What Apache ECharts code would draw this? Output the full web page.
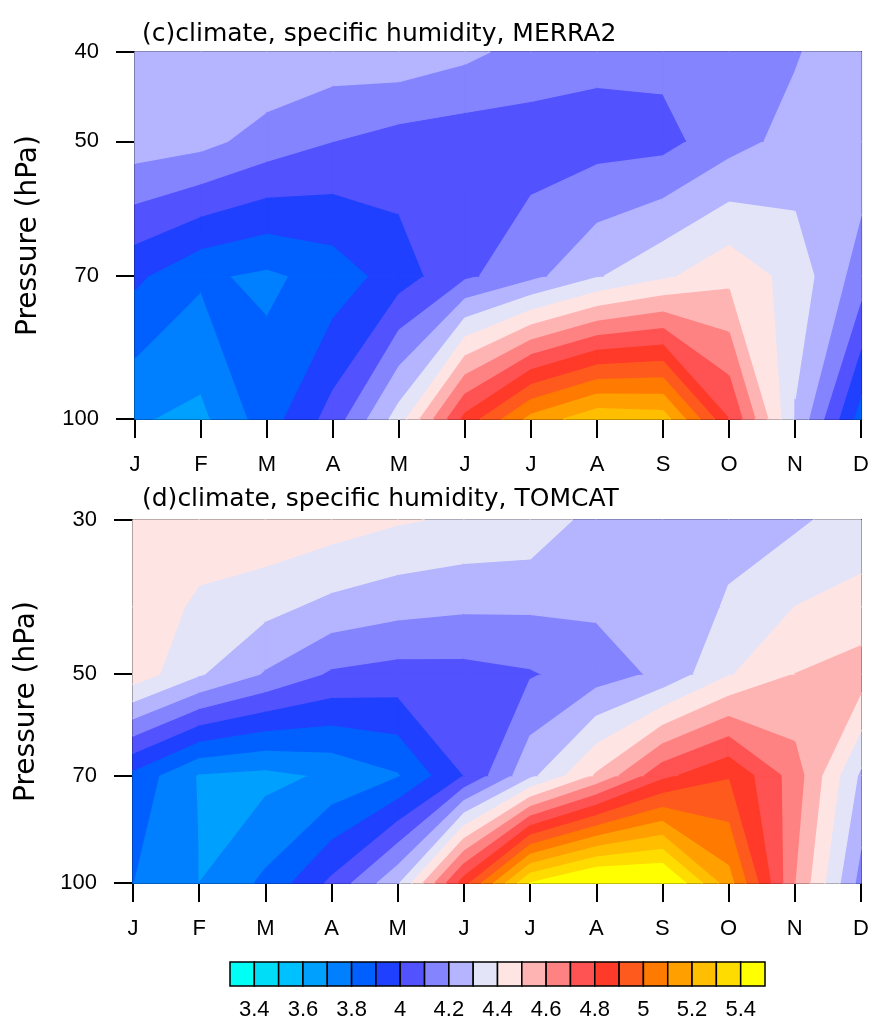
<!DOCTYPE html>
<html>
<head>
<meta charset="utf-8">
<script src="https://cdn.jsdelivr.net/npm/echarts@6/dist/echarts.min.js"></script>
<style>
  html, body { margin: 0; padding: 0; background: #fff; }
  #main { width: 872px; height: 1021px; }
</style>
</head>
<body>
<div id="main"></div>
<script>
// month labels on the x axis
var months = ['J', 'F', 'M', 'A', 'M', 'J', 'J', 'A', 'S', 'O', 'N', 'D'];

// pressure levels (hPa) of each data set, bottom to top
var levelsMerra = [100, 70, 50, 40];
var levelsTomcat = [100, 70, 50, 40, 30];

// pressure tick labels
var ticksMerra = [40, 50, 70, 100];
var ticksTomcat = [30, 50, 70, 100];

// specific humidity (ppmv), one row per level, one value per month
var qMerra100 = [3.71, 3.675, 3.85, 4.04, 4.345, 4.83, 5.13, 5.27, 5.25, 4.80, 4.29, 3.85];
var qMerra70  = [3.92, 3.815, 3.78, 3.84, 3.95, 4.08, 4.17, 4.29, 4.38, 4.47, 4.36, 4.15];
var qMerra50  = [4.254, 4.23, 4.155, 4.10, 4.058, 4.04, 4.053, 4.06, 4.066, 4.16, 4.235, 4.26];
var qMerra40  = [4.28, 4.27, 4.29, 4.26, 4.27, 4.225, 4.158, 4.126, 4.13, 4.17, 4.19, 4.28];

var qTomcat100 = [3.80, 3.70, 3.82, 4.02, 4.28, 4.85, 5.40, 5.55, 5.54, 5.14, 4.60, 4.16];
var qTomcat70  = [3.87, 3.69, 3.67, 3.715, 3.79, 4.00, 4.27, 4.51, 4.77, 4.89, 4.65, 4.28];
var qTomcat50  = [4.46, 4.31, 4.19, 4.085, 4.06, 4.065, 4.09, 4.15, 4.22, 4.39, 4.50, 4.55];
var qTomcat40  = [4.47, 4.38, 4.33, 4.27, 4.234, 4.215, 4.214, 4.215, 4.23, 4.31, 4.40, 4.43];
var qTomcat30  = [4.48, 4.46, 4.48, 4.45, 4.41, 4.385, 4.37, 4.26, 4.25, 4.27, 4.28, 4.35];

// contour levels and fill colours (one more colour than levels)
var contourLevels = [3.4, 3.5, 3.6, 3.7, 3.8, 3.9, 4.0, 4.1, 4.2, 4.3, 4.4,
                     4.5, 4.6, 4.7, 4.8, 4.9, 5.0, 5.1, 5.2, 5.3, 5.4];
var fillColors = ['#00FFF4', '#00DDF6', '#00C1FF', '#00A0FF', '#0080FF', '#0060FF',
                  '#2040FF', '#5252FF', '#8484FF', '#B4B4FF', '#E4E4F8', '#FFE4E4',
                  '#FFB4B4', '#FF8282', '#FF5252', '#FF3A28', '#FF5A1E', '#FF7A00',
                  '#FFA000', '#FFBE00', '#FFDC00', '#FFFF00'];
// colour bar labels
var barLabels = ['3.4', '3.6', '3.8', '4', '4.2', '4.4', '4.6', '4.8', '5', '5.2', '5.4'];

var FONT = 'Liberation Sans';
var WIDE = 'DejaVu Sans';

// keep the part of polygon where value >= t (above) or <= t
function clipPoly(poly, t, above) {
  var out = [];
  for (var k = 0; k < poly.length; k++) {
    var a = poly[k], b = poly[(k + 1) % poly.length];
    var ina = above ? a.v >= t : a.v <= t;
    var inb = above ? b.v >= t : b.v <= t;
    if (ina) out.push(a);
    if (ina !== inb) {
      var f = (t - a.v) / (b.v - a.v);
      out.push({ x: a.x + f * (b.x - a.x), y: a.y + f * (b.y - a.y), v: t });
    }
  }
  return out;
}

function contourSeries(axisIndex, levels, rows) {
  var cells = [];
  for (var j = 0; j < levels.length - 1; j++) {
    for (var i = 0; i < months.length - 1; i++) {
      cells.push([i, Math.log10(levels[j]), i + 1, Math.log10(levels[j + 1]), j]);
    }
  }
  return {
    type: 'custom',
    xAxisIndex: axisIndex,
    yAxisIndex: axisIndex,
    silent: true,
    animation: false,
    data: cells,
    encode: { x: [0, 2], y: [1, 3] },
    renderItem: function (params, api) {
      var c = cells[params.dataIndex];
      var i0 = c[0], i1 = c[2], j = c[4];
      var corners = [[i0, j], [i1, j], [i1, j + 1], [i0, j + 1]];
      var poly = corners.map(function (p) {
        var pt = api.coord([p[0], Math.log10(levels[p[1]])]);
        return { x: pt[0], y: pt[1], v: rows[p[1]][p[0]] };
      });
      var children = [];
      for (var k = 0; k < fillColors.length; k++) {
        var lo = k === 0 ? -Infinity : contourLevels[k - 1];
        var hi = k === contourLevels.length ? Infinity : contourLevels[k];
        var part = clipPoly(clipPoly(poly, lo, true), hi, false);
        if (part.length < 3) continue;
        children.push({
          type: 'polygon',
          shape: { points: part.map(function (q) { return [q.x, q.y]; }) },
          style: { fill: fillColors[k], stroke: fillColors[k], lineWidth: 1.4, lineJoin: 'round' }
        });
      }
      return { type: 'group', children: children };
    }
  };
}

function xAxisFor(gridIndex) {
  return {
    gridIndex: gridIndex, type: 'value', min: 0, max: 11, interval: 1,
    axisLine: { lineStyle: { color: '#000', width: 2 } },
    axisTick: { length: 19, lineStyle: { color: '#000', width: 2 } },
    axisLabel: { margin: 35, color: '#000', fontSize: 22, fontFamily: FONT,
      formatter: function (v) { return months[v]; } },
    splitLine: { show: false }
  };
}

function yAxisFor(gridIndex, ticks, top) {
  var tv = ticks.map(function (p) { return Math.log10(p); });
  return {
    gridIndex: gridIndex, type: 'value', inverse: true,
    min: Math.log10(top), max: 2,
    name: 'Pressure (hPa)', nameLocation: 'middle', nameGap: 92,
    nameTextStyle: { color: '#000', fontSize: 28, fontFamily: WIDE },
    axisLine: { lineStyle: { color: '#000', width: 2 } },
    axisTick: { length: 19, customValues: tv, lineStyle: { color: '#000', width: 2 } },
    axisLabel: { margin: 36, customValues: tv, color: '#000', fontSize: 22, fontFamily: FONT,
      formatter: function (v) { return String(Math.round(Math.pow(10, v))); } },
    splitLine: { show: false }
  };
}

var rowsMerra = [qMerra100, qMerra70, qMerra50, qMerra40];
var rowsTomcat = [qTomcat100, qTomcat70, qTomcat50, qTomcat40, qTomcat30];

var barStops = [];
for (var b = 0; b < fillColors.length; b++) barStops.push([b, 0, b + 1, 1]);
var barTickValues = [];
for (var t = 1; t <= contourLevels.length; t += 2) barTickValues.push(t);

var chart = echarts.init(document.getElementById('main'), null, { renderer: 'canvas' });

var option = {
  backgroundColor: '#fff',
  animation: false,
  title: [
    { text: '(c)climate, specific humidity, MERRA2', left: 137, top: 17,
      textStyle: { color: '#000', fontSize: 25, fontWeight: 'normal', fontFamily: WIDE } },
    { text: '(d)climate, specific humidity, TOMCAT', left: 137, top: 482,
      textStyle: { color: '#000', fontSize: 25, fontWeight: 'normal', fontFamily: WIDE } }
  ],
  grid: [
    { left: 135, top: 52, width: 729, height: 367, show: true, borderColor: '#000', borderWidth: 2 },
    { left: 133, top: 520, width: 728, height: 363, show: true, borderColor: '#000', borderWidth: 2 },
    { left: 230, top: 962, width: 535, height: 35 }
  ],
  xAxis: [
    xAxisFor(0),
    xAxisFor(1),
    {
      gridIndex: 2, type: 'value', min: 0, max: fillColors.length,
      axisLine: { show: false }, axisTick: { show: false }, splitLine: { show: false },
      axisLabel: { margin: 13, customValues: barTickValues, color: '#000', fontSize: 22, fontFamily: FONT,
        formatter: function (v) { return barLabels[(v - 1) / 2]; } }
    }
  ],
  yAxis: [
    yAxisFor(0, ticksMerra, levelsMerra[levelsMerra.length - 1]),
    yAxisFor(1, ticksTomcat, levelsTomcat[levelsTomcat.length - 1]),
    { gridIndex: 2, type: 'value', min: 0, max: 1, show: false }
  ],
  series: [
    contourSeries(0, levelsMerra, rowsMerra),
    contourSeries(1, levelsTomcat, rowsTomcat),
    {
      type: 'custom', xAxisIndex: 2, yAxisIndex: 2, silent: true,
      data: barStops, encode: { x: [0, 2], y: [1, 3] },
      renderItem: function (params, api) {
        var s = barStops[params.dataIndex];
        var p0 = api.coord([s[0], s[3]]);
        var p1 = api.coord([s[2], s[1]]);
        return {
          type: 'rect',
          shape: { x: p0[0], y: p0[1], width: p1[0] - p0[0], height: p1[1] - p0[1] },
          style: { fill: fillColors[params.dataIndex], stroke: '#000', lineWidth: 1.5 }
        };
      }
    }
  ]
};

chart.setOption(option);
</script>
</body>
</html>
